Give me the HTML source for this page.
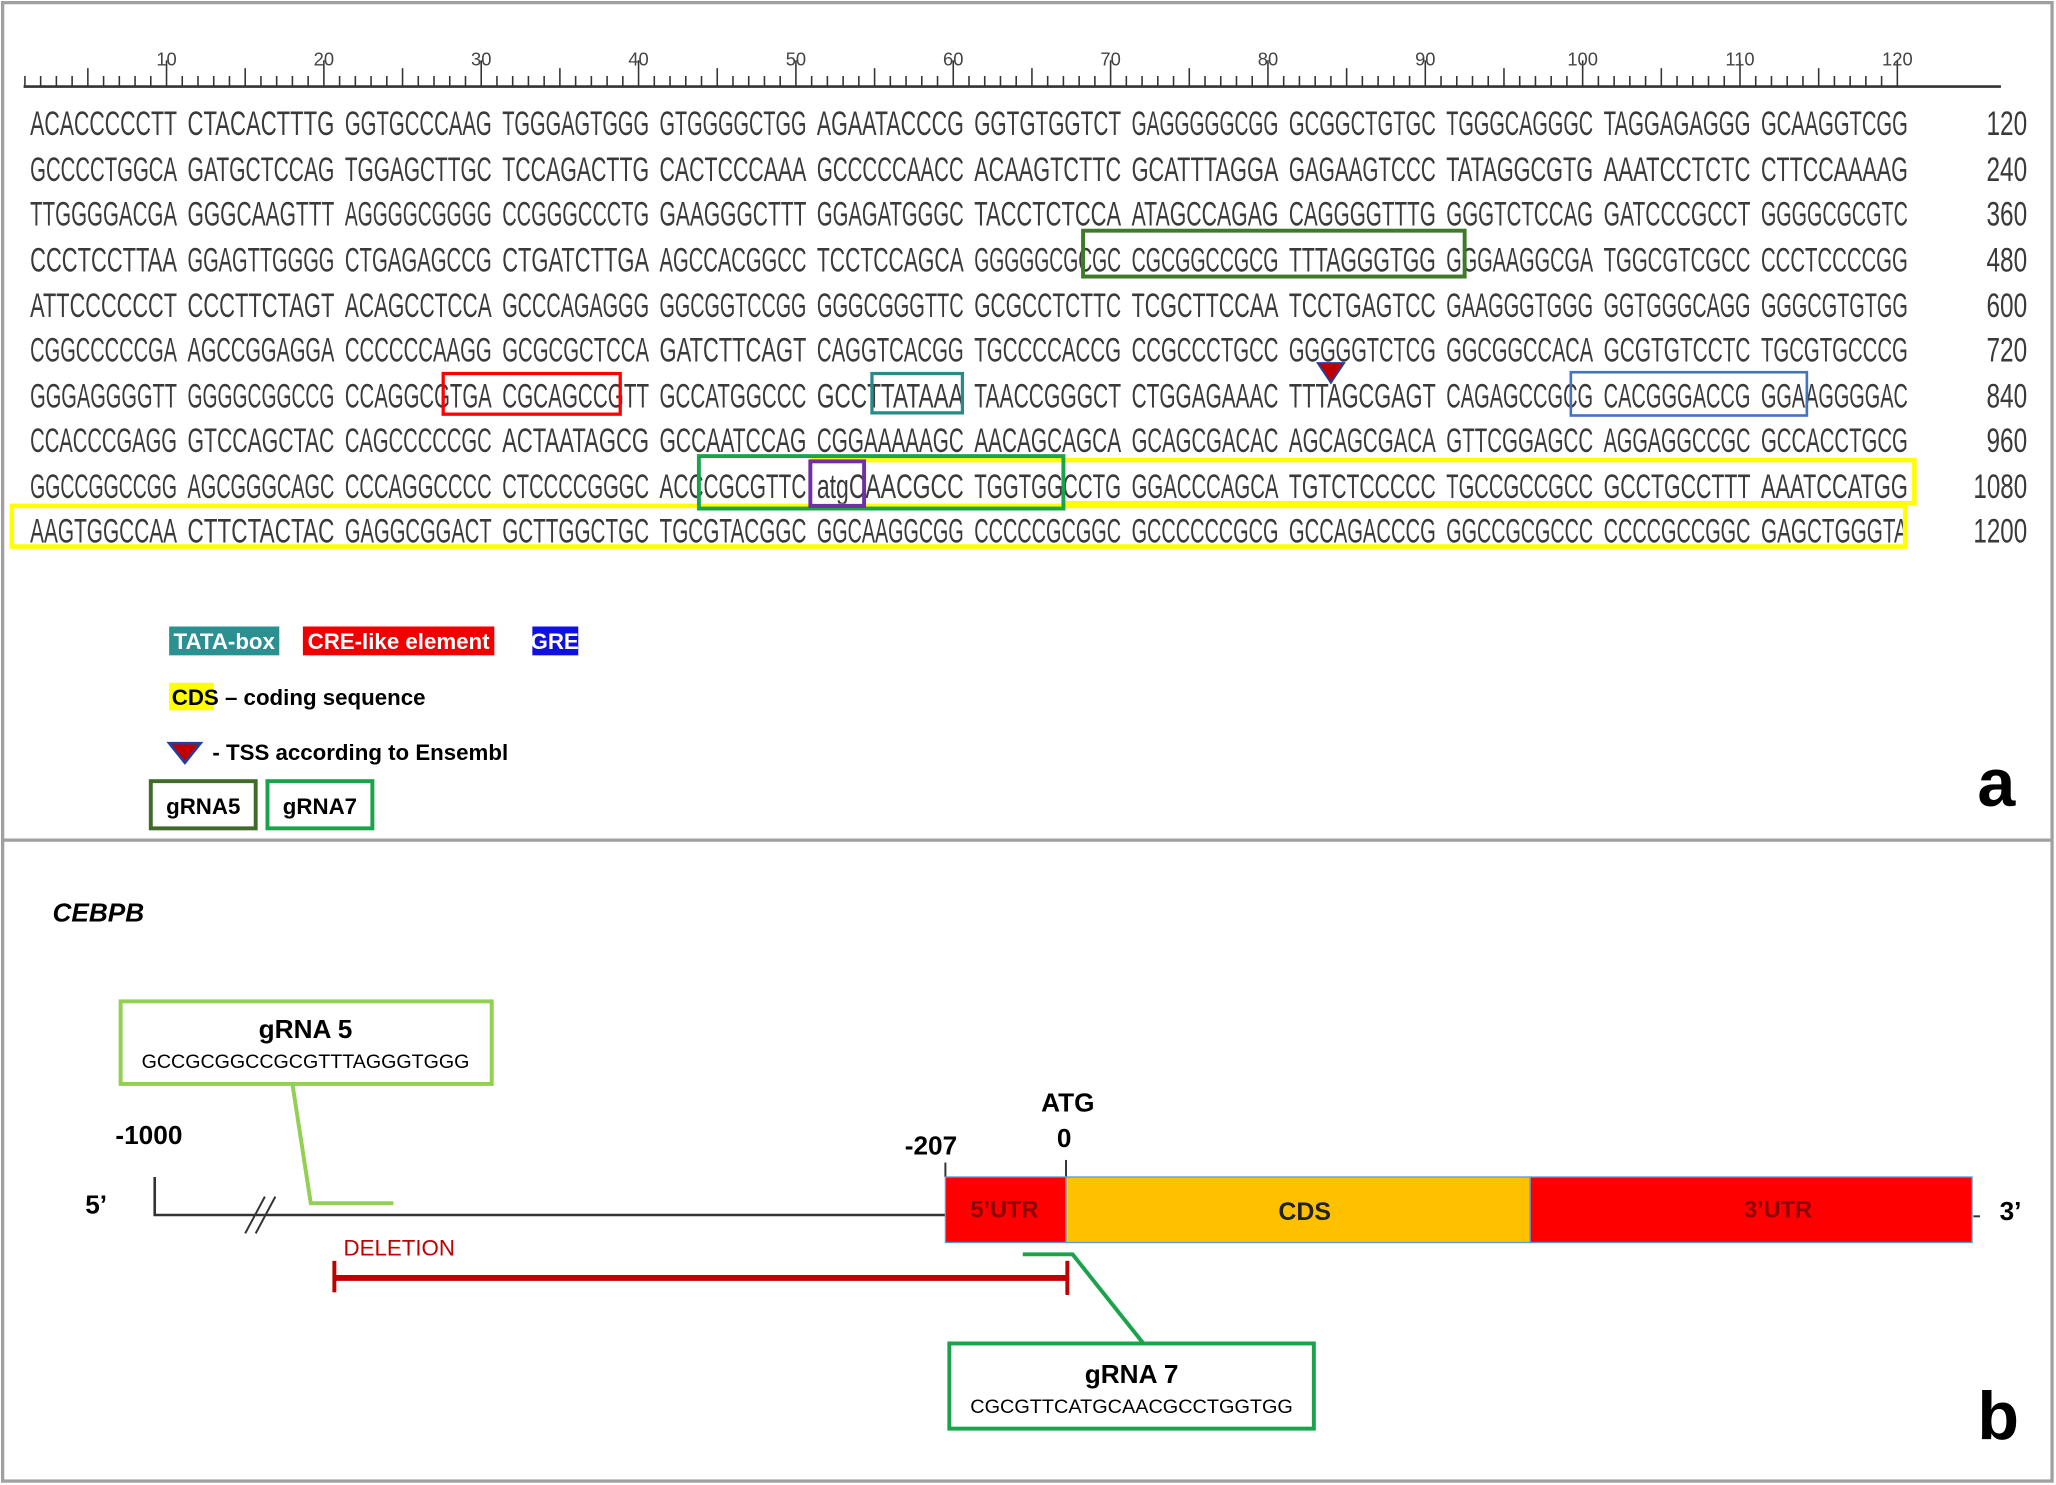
<!DOCTYPE html>
<html><head><meta charset="utf-8"><style>
html,body{margin:0;padding:0;background:#fff;}
svg{display:block;}
.s{font-family:"Liberation Sans",sans-serif;font-size:26px;fill:#3a3a3a;}
.b{font-family:"Liberation Sans",sans-serif;font-weight:bold;}
</style></head><body>
<svg width="2056" height="1485" viewBox="0 0 1568 1133" preserveAspectRatio="none" xmlns="http://www.w3.org/2000/svg">
<rect x="0" y="0" width="1568" height="1133" fill="#fff"/>
<rect x="2" y="2" width="1563" height="1128" fill="none" stroke="#a0a0a0" stroke-width="2.5"/>
<line x1="2" y1="641" x2="1566" y2="641" stroke="#a0a0a0" stroke-width="2.5"/>
<line x1="18" y1="66" x2="1526" y2="66" stroke="#333" stroke-width="2"/>
<g id="ruler" stroke="#333" stroke-width="1.2"></g>
<g id="rl" font-family="Liberation Sans, sans-serif" font-size="14" fill="#444" text-anchor="middle"></g>
<g id="seq"></g>
<!-- boxes -->
<rect x="826" y="176" width="291" height="35" fill="none" stroke="#3f7a2a" stroke-width="3"/>
<rect x="338" y="285" width="135" height="31" fill="none" stroke="#f00" stroke-width="2.5"/>
<rect x="665" y="285" width="69" height="30" fill="none" stroke="#2a8a8a" stroke-width="2.5"/>
<rect x="1198" y="284" width="180" height="33" fill="none" stroke="#4472c4" stroke-width="2"/>
<polygon points="1005,277 1025,277 1015,292" fill="#c00000" stroke="#2040a0" stroke-width="1.5"/>
<polyline points="618,351 1460,351 1460,384 812,384" fill="none" stroke="#ffff00" stroke-width="3.5"/>
<rect x="9" y="386" width="1444" height="31" fill="none" stroke="#ffff00" stroke-width="3.5"/>
<rect x="533" y="348" width="278" height="40" fill="none" stroke="#1aa34a" stroke-width="3"/>
<rect x="618" y="352" width="41" height="34" fill="none" stroke="#7030a0" stroke-width="3"/>
<!-- legend -->
<rect x="129" y="478" width="84" height="22" fill="#2a9090"/>
<text x="171" y="495" class="b" font-size="17" fill="#fff" text-anchor="middle">TATA-box</text>
<rect x="231" y="478" width="146" height="22" fill="#f00000"/>
<text x="304" y="495" class="b" font-size="17" fill="#fff" text-anchor="middle">CRE-like element</text>
<rect x="406" y="478" width="35" height="22" fill="#1010e0"/>
<text x="423" y="495" class="b" font-size="17" fill="#fff" text-anchor="middle">GRE</text>
<rect x="129" y="521" width="34" height="21" fill="#ffff00"/>
<text x="131" y="538" class="b" font-size="17" fill="#000">CDS <tspan>– coding sequence</tspan></text>
<polygon points="129,567 153,567 141,582" fill="#c00000" stroke="#2040a0" stroke-width="2"/>
<text x="162" y="580" class="b" font-size="17" fill="#000">- TSS according to Ensembl</text>
<rect x="115" y="596" width="80" height="36" fill="none" stroke="#3f6a2a" stroke-width="3"/>
<text x="155" y="621" class="b" font-size="17" fill="#000" text-anchor="middle">gRNA5</text>
<rect x="204" y="596" width="80" height="36" fill="none" stroke="#1aa34a" stroke-width="3"/>
<text x="244" y="621" class="b" font-size="17" fill="#000" text-anchor="middle">gRNA7</text>
<text x="1508" y="615" class="b" font-size="52" fill="#000">a</text>
<!-- panel b -->
<text x="40" y="703" class="b" font-size="20" font-style="italic" fill="#000">CEBPB</text>
<rect x="92" y="764" width="283" height="63" fill="none" stroke="#92d050" stroke-width="3"/>
<text x="233" y="792" class="b" font-size="20" fill="#000" text-anchor="middle">gRNA 5</text>
<text x="233" y="815" font-family="Liberation Sans, sans-serif" font-size="14.5" fill="#000" text-anchor="middle" textLength="250" lengthAdjust="spacingAndGlyphs">GCCGCGGCCGCGTTTAGGGTGGG</text>
<polyline points="223,827 237,918 300,918" fill="none" stroke="#92d050" stroke-width="3"/>
<text x="88" y="873" class="b" font-size="20" fill="#000">-1000</text>
<text x="65" y="926" class="b" font-size="20" fill="#000">5’</text>
<polyline points="118,898 118,927 721,927" fill="none" stroke="#333" stroke-width="2"/>
<line x1="187" y1="941" x2="202" y2="913" stroke="#333" stroke-width="1.5"/>
<line x1="195" y1="941" x2="210" y2="913" stroke="#333" stroke-width="1.5"/>
<text x="690" y="881" class="b" font-size="20" fill="#000">-207</text>
<text x="794" y="848" class="b" font-size="20" fill="#000">ATG</text>
<text x="806" y="875" class="b" font-size="20" fill="#000">0</text>
<line x1="721" y1="887" x2="721" y2="898" stroke="#333" stroke-width="1.5"/>
<line x1="813" y1="885" x2="813" y2="898" stroke="#333" stroke-width="1.5"/>
<rect x="721" y="898" width="92" height="50" fill="#ff0000" stroke="#5b9bd5" stroke-width="1"/>
<rect x="813" y="898" width="354" height="50" fill="#ffc000" stroke="#5b9bd5" stroke-width="1"/>
<rect x="1167" y="898" width="337" height="50" fill="#ff0000" stroke="#5b9bd5" stroke-width="1"/>
<text x="766" y="929" class="b" font-size="18" fill="#8b0000" text-anchor="middle">5’UTR</text>
<text x="995" y="931" class="b" font-size="19" fill="#222" text-anchor="middle">CDS</text>
<text x="1356" y="929" class="b" font-size="18" fill="#8b0000" text-anchor="middle">3’UTR</text>
<line x1="1505" y1="928" x2="1510" y2="928" stroke="#333" stroke-width="1.5"/>
<text x="1525" y="931" class="b" font-size="20" fill="#000">3’</text>
<text x="262" y="958" font-family="Liberation Sans, sans-serif" font-size="17" fill="#c00000">DELETION</text>
<line x1="255" y1="975" x2="814" y2="975" stroke="#c00000" stroke-width="4.5"/>
<line x1="255" y1="962" x2="255" y2="986" stroke="#c00000" stroke-width="3"/>
<line x1="814" y1="962" x2="814" y2="988" stroke="#c00000" stroke-width="3"/>
<polyline points="780,957 818,957 872,1025" fill="none" stroke="#1aa34a" stroke-width="3"/>
<rect x="724" y="1025" width="278" height="65" fill="none" stroke="#1aa34a" stroke-width="3"/>
<text x="863" y="1055" class="b" font-size="20" fill="#000" text-anchor="middle">gRNA 7</text>
<text x="863" y="1078" font-family="Liberation Sans, sans-serif" font-size="14.5" fill="#000" text-anchor="middle" textLength="246" lengthAdjust="spacingAndGlyphs">CGCGTTCATGCAACGCCTGGTGG</text>
<text x="1508" y="1098" class="b" font-size="52" fill="#000">b</text>
<script>
(function(){
var NS="http://www.w3.org/2000/svg";
var r=document.getElementById("ruler"),rl=document.getElementById("rl");
for(var n=1;n<=120;n++){var x=7+12*n;var y1=n%10==0?46:(n%5==0?52:58);
var l=document.createElementNS(NS,"line");l.setAttribute("x1",x);l.setAttribute("x2",x);l.setAttribute("y1",y1);l.setAttribute("y2",66);r.appendChild(l);
if(n%10==0){var t=document.createElementNS(NS,"text");t.setAttribute("x",x);t.setAttribute("y",50);t.textContent=n;rl.appendChild(t);}}
var rows=["ACACCCCCTT CTACACTTTG GGTGCCCAAG TGGGAGTGGG GTGGGGCTGG AGAATACCCG GGTGTGGTCT GAGGGGGCGG GCGGCTGTGC TGGGCAGGGC TAGGAGAGGG GCAAGGTCGG",
"GCCCCTGGCA GATGCTCCAG TGGAGCTTGC TCCAGACTTG CACTCCCAAA GCCCCCAACC ACAAGTCTTC GCATTTAGGA GAGAAGTCCC TATAGGCGTG AAATCCTCTC CTTCCAAAAG",
"TTGGGGACGA GGGCAAGTTT AGGGGCGGGG CCGGGCCCTG GAAGGGCTTT GGAGATGGGC TACCTCTCCA ATAGCCAGAG CAGGGGTTTG GGGTCTCCAG GATCCCGCCT GGGGCGCGTC",
"CCCTCCTTAA GGAGTTGGGG CTGAGAGCCG CTGATCTTGA AGCCACGGCC TCCTCCAGCA GGGGGCGCGC CGCGGCCGCG TTTAGGGTGG GGGAAGGCGA TGGCGTCGCC CCCTCCCCGG",
"ATTCCCCCCT CCCTTCTAGT ACAGCCTCCA GCCCAGAGGG GGCGGTCCGG GGGCGGGTTC GCGCCTCTTC TCGCTTCCAA TCCTGAGTCC GAAGGGTGGG GGTGGGCAGG GGGCGTGTGG",
"CGGCCCCCGA AGCCGGAGGA CCCCCCAAGG GCGCGCTCCA GATCTTCAGT CAGGTCACGG TGCCCCACCG CCGCCCTGCC GGGGGTCTCG GGCGGCCACA GCGTGTCCTC TGCGTGCCCG",
"GGGAGGGGTT GGGGCGGCCG CCAGGCGTGA CGCAGCCGTT GCCATGGCCC GCCTTATAAA TAACCGGGCT CTGGAGAAAC TTTAGCGAGT CAGAGCCGCG CACGGGACCG GGAAGGGGAC",
"CCACCCGAGG GTCCAGCTAC CAGCCCCCGC ACTAATAGCG GCCAATCCAG CGGAAAAAGC AACAGCAGCA GCAGCGACAC AGCAGCGACA GTTCGGAGCC AGGAGGCCGC GCCACCTGCG",
"GGCCGGCCGG AGCGGGCAGC CCCAGGCCCC CTCCCCGGGC ACCCGCGTTC atgCAACGCC TGGTGGCCTG GGACCCAGCA TGTCTCCCCC TGCCGCCGCC GCCTGCCTTT AAATCCATGG",
"AAGTGGCCAA CTTCTACTAC GAGGCGGACT GCTTGGCTGC TGCGTACGGC GGCAAGGCGG CCCCCGCGGC GCCCCCCGCG GCCAGACCCG GGCCGCGCCC CCCCGCCGGC GAGCTGGGTA"];
var base=[103,138,172,207,242,276,311,345,380,414];
var s=document.getElementById("seq");
rows.forEach(function(row,i){row.split(" ").forEach(function(g,k){
var t=document.createElementNS(NS,"text");t.setAttribute("class","s");t.setAttribute("x",23+120*k);t.setAttribute("y",base[i]);
t.setAttribute("textLength","112");t.setAttribute("lengthAdjust","spacingAndGlyphs");t.textContent=g;s.appendChild(t);});
var lab=String((i+1)*120);var w=lab.length==3?31:41;
var n=document.createElementNS(NS,"text");n.setAttribute("class","s");n.setAttribute("x",1546-w);n.setAttribute("y",base[i]);n.setAttribute("textLength",w);n.setAttribute("lengthAdjust","spacingAndGlyphs");n.textContent=lab;s.appendChild(n);});
})();
</script>
</svg>
</body></html>
